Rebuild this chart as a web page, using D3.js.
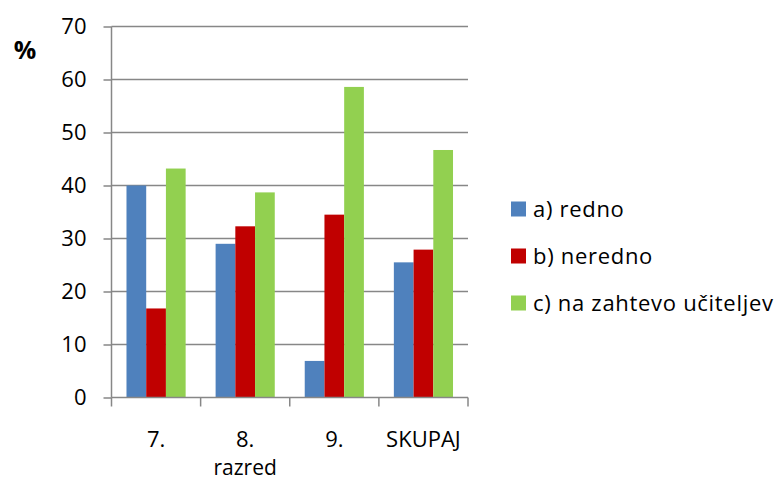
<!DOCTYPE html>
<html>
<head>
<meta charset="utf-8">
<script src="https://cdn.jsdelivr.net/npm/d3@7"></script>
<style>
  body { margin: 0; background: #fff; }
  text { font-family: "Open Sans", sans-serif; fill: #000; }
</style>
</head>
<body>
<div id="chart"></div>
<script>
const categories = ["7.", "8.", "9.", "SKUPAJ"];
const seriesNames = ["a) redno", "b) neredno", "c) na zahtevo učiteljev"];
const redno = [40, 29, 6.9, 25.5];
const neredno = [16.8, 32.3, 34.5, 27.9];
const zahtevo = [43.2, 38.7, 58.6, 46.7];
const yTicks = [0, 10, 20, 30, 40, 50, 60, 70];
const colors = ["#4F81BD", "#C00000", "#92D050"];

const width = 776, height = 482;
const margin = { left: 111.5, right: 308, top: 26.5, bottom: 84.5 };

const svg = d3.select("#chart").append("svg")
    .attr("width", width)
    .attr("height", height);

const x = d3.scaleBand()
    .domain(categories)
    .range([margin.left, width - margin.right]);

const xInner = d3.scaleBand()
    .domain(seriesNames)
    .range([0, x.bandwidth()])
    .paddingOuter(0.76)
    .paddingInner(0);

const y = d3.scaleLinear()
    .domain([0, 70])
    .range([height - margin.bottom, margin.top]);

// gridlines
svg.append("g")
    .selectAll("line")
    .data(yTicks.slice(1))
    .enter().append("line")
    .attr("x1", margin.left)
    .attr("x2", width - margin.right)
    .attr("y1", d => y(d))
    .attr("y2", d => y(d))
    .attr("stroke", "#878787")
    .attr("stroke-width", 1.5);

// bars
const values = [redno, neredno, zahtevo];
seriesNames.forEach((s, i) => {
    svg.append("g")
        .selectAll("rect")
        .data(categories)
        .enter().append("rect")
        .attr("x", d => x(d) + xInner(s))
        .attr("width", xInner.bandwidth())
        .attr("y", (d, j) => y(values[i][j]))
        .attr("height", (d, j) => y(0) - y(values[i][j]))
        .attr("fill", colors[i]);
});

// y axis
const yAxis = svg.append("g")
    .attr("transform", `translate(${margin.left},0)`)
    .call(d3.axisLeft(y).tickValues(yTicks).tickSize(8).tickPadding(17));
yAxis.selectAll("line").attr("stroke", "#878787").attr("stroke-width", 1.5);
yAxis.select(".domain").attr("stroke", "#878787").attr("stroke-width", 1.5)
    .attr("d", `M0,${margin.top}V${height - margin.bottom}`);
yAxis.selectAll("text").style("font-size", "22px").style("font-family", "Open Sans");

// x axis
const xAxis = svg.append("g")
    .attr("transform", `translate(0,${y(0)})`);
xAxis.append("line")
    .attr("x1", margin.left)
    .attr("x2", width - margin.right)
    .attr("stroke", "#878787")
    .attr("stroke-width", 1.5);
xAxis.selectAll(".tick")
    .data(categories)
    .enter().append("line")
    .attr("x1", d => x(d) + x.bandwidth())
    .attr("x2", d => x(d) + x.bandwidth())
    .attr("y1", 0)
    .attr("y2", 9)
    .attr("stroke", "#878787")
    .attr("stroke-width", 1.5);
xAxis.append("line")
    .attr("x1", margin.left).attr("x2", margin.left)
    .attr("y1", 0).attr("y2", 9)
    .attr("stroke", "#878787").attr("stroke-width", 1.5);

xAxis.selectAll(".lbl")
    .data(categories)
    .enter().append("text")
    .attr("x", d => x(d) + x.bandwidth() / 2)
    .attr("y", 49.5)
    .attr("text-anchor", "middle")
    .style("font-size", "22px")
    .text(d => d);

// axis title, under the "8." label
svg.append("text")
    .attr("x", x("8.") + x.bandwidth() / 2)
    .attr("y", 475)
    .attr("text-anchor", "middle")
    .style("font-size", "21px")
    .text("razred");

// % label
svg.append("text")
    .attr("x", 25)
    .attr("y", 59)
    .attr("text-anchor", "middle")
    .style("font-size", "25px")
    .style("font-weight", "bold")
    .text("%");

// legend
const legend = svg.append("g")
    .selectAll("g")
    .data(seriesNames)
    .enter().append("g")
    .attr("transform", (d, i) => `translate(511,${209 + i * 47})`);
legend.append("rect")
    .attr("x", 0)
    .attr("y", -7.5)
    .attr("width", 15)
    .attr("height", 15)
    .attr("fill", (d, i) => colors[i]);
legend.append("text")
    .attr("x", 22)
    .attr("y", 7.5)
    .style("font-size", "22px")
    .style("letter-spacing", "0.7px")
    .text(d => d);
</script>
</body>
</html>
